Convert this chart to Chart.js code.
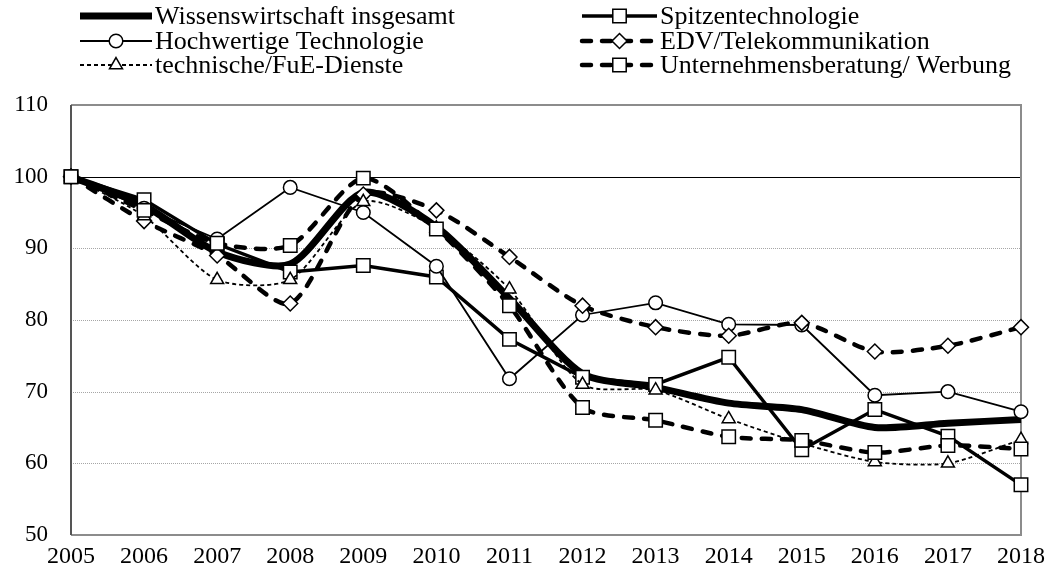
<!DOCTYPE html>
<html>
<head>
<meta charset="utf-8">
<script src="https://cdn.jsdelivr.net/npm/chart.js@4.4.1/dist/chart.umd.min.js"></script>
<style>
    html, body { margin: 0; padding: 0; background: #fff; }
    #wrap { width: 1053px; height: 579px; }
</style>
</head>
<body>
<div id="wrap"><canvas id="chart"></canvas></div>
<script>
// Daten (Index 2005 = 100)
const years = ['2005', '2006', '2007', '2008', '2009', '2010', '2011', '2012', '2013', '2014', '2015', '2016', '2017', '2018'];
const yTicks = [50, 60, 70, 80, 90, 100, 110];

const wissenGesamt    = [100, 96.0, 89.5, 87.8, 97.8, 93.0, 83.0, 72.5, 70.6, 68.4, 67.5, 65.0, 65.6, 66.1];
const spitzenTech     = [100, 96.8, 90.6, 86.7, 87.6, 86.0, 77.3, 72.0, 71.0, 74.8, 61.9, 67.5, 63.8, 57.0];
const hochwertigeTech = [100, 95.6, 91.3, 98.5, 95.0, 87.5, 71.8, 80.7, 82.4, 79.4, 79.3, 69.5, 70.0, 67.2];
const edvTelekom      = [100, 93.8, 89.0, 82.3, 97.5, 95.3, 88.8, 82.0, 79.0, 77.8, 79.6, 75.6, 76.4, 79.0];
const fueDienste      = [100, 94.5, 85.6, 85.6, 96.5, 92.8, 84.3, 71.0, 70.2, 66.2, 62.8, 60.2, 60.0, 63.3];
const beratungWerbung = [100, 95.3, 90.7, 90.4, 99.8, 92.7, 82.0, 67.8, 66.0, 63.7, 63.2, 61.5, 62.5, 62.0];

const labels = [
    'Wissenswirtschaft insgesamt',
    'Spitzentechnologie',
    'Hochwertige Technologie',
    'EDV/Telekommunikation',
    'technische/FuE-Dienste',
    'Unternehmensberatung/ Werbung'
];

const FONT = '"Liberation Serif", "Times New Roman", serif';

function marker(style, radius) {
    return {
        pointStyle: style,
        pointRadius: radius,
        pointHoverRadius: radius,
        pointBackgroundColor: '#fff',
        pointBorderColor: '#000',
        pointBorderWidth: 1.5
    };
}

const datasets = [
    Object.assign({ label: labels[0], data: wissenGesamt, borderColor: '#000', borderWidth: 7, tension: 0.25, pointRadius: 0, order: 6 }),
    Object.assign({ label: labels[1], data: spitzenTech, borderColor: '#000', borderWidth: 3.5, tension: 0, order: 5 }, marker('rect', 9.5)),
    Object.assign({ label: labels[2], data: hochwertigeTech, borderColor: '#000', borderWidth: 1.8, tension: 0, order: 4 }, marker('circle', 6.8)),
    Object.assign({ label: labels[3], data: edvTelekom, borderColor: '#000', borderWidth: 4.5, borderDash: [9, 11], borderCapStyle: 'round', tension: 0.25, order: 3 }, marker('rectRot', 7.5)),
    Object.assign({ label: labels[4], data: fueDienste, borderColor: '#000', borderWidth: 1.8, borderDash: [4, 3], tension: 0.25, order: 2 }, marker('triangle', 7.5)),
    Object.assign({ label: labels[5], data: beratungWerbung, borderColor: '#000', borderWidth: 4.5, borderDash: [9, 11], borderCapStyle: 'round', tension: 0.25, order: 1 }, marker('rect', 9.5))
];

// Gitterlinien und Rahmen selbst zeichnen
const gridPlugin = {
    id: 'gridPlugin',
    beforeDatasetsDraw(chart) {
        const ctx = chart.ctx;
        const a = chart.chartArea;
        const y = chart.scales.y;
        ctx.save();
        yTicks.forEach(v => {
            if (v === 50 || v === 110) return;
            const py = Math.round(y.getPixelForValue(v)) + 0.5;
            ctx.beginPath();
            if (v === 100) {
                ctx.strokeStyle = '#000';
                ctx.setLineDash([]);
            } else {
                ctx.strokeStyle = '#a6a6a6';
                ctx.setLineDash([1, 1]);
            }
            ctx.lineWidth = 1;
            ctx.moveTo(a.left, py);
            ctx.lineTo(a.right, py);
            ctx.stroke();
        });
        ctx.setLineDash([]);
        // Rahmen oben / rechts / unten
        ctx.strokeStyle = '#8c8c8c';
        ctx.lineWidth = 2;
        ctx.beginPath();
        ctx.moveTo(a.left, a.top);
        ctx.lineTo(a.right, a.top);
        ctx.lineTo(a.right, a.bottom);
        ctx.lineTo(a.left, a.bottom);
        ctx.stroke();
        // linke Achse
        ctx.strokeStyle = '#555';
        ctx.beginPath();
        ctx.moveTo(a.left, a.top);
        ctx.lineTo(a.left, a.bottom);
        ctx.stroke();
        ctx.restore();
    }
};

// Legende: zwei Spalten, drei Zeilen
const legendPlugin = {
    id: 'legendPlugin',
    afterDraw(chart) {
        const ctx = chart.ctx;
        const rows = [16, 41, 65];
        const cols = [{ x0: 80, x1: 152, tx: 155 }, { x0: 582, x1: 657, tx: 660 }];
        ctx.save();
        chart.data.datasets.forEach((ds, i) => {
            const row = rows[Math.floor(i / 2)];
            const col = cols[i % 2];
            ctx.beginPath();
            ctx.strokeStyle = ds.borderColor;
            ctx.lineWidth = ds.borderWidth;
            ctx.lineCap = ds.borderCapStyle || 'butt';
            ctx.setLineDash(ds.borderDash || []);
            ctx.moveTo(col.x0, row);
            ctx.lineTo(col.x1, row);
            ctx.stroke();
            ctx.setLineDash([]);
            if (ds.pointRadius > 0) {
                ctx.fillStyle = '#fff';
                ctx.strokeStyle = '#000';
                ctx.lineWidth = ds.pointBorderWidth;
                Chart.helpers.drawPoint(ctx, {
                    pointStyle: ds.pointStyle,
                    radius: ds.pointRadius,
                    rotation: 0,
                    borderWidth: ds.pointBorderWidth
                }, (col.x0 + col.x1) / 2, row);
            }
            ctx.fillStyle = '#000';
            ctx.font = '26px ' + FONT;
            ctx.textBaseline = 'middle';
            ctx.textAlign = 'left';
            ctx.fillText(ds.label, col.tx, row + 1);
        });
        ctx.restore();
    }
};

new Chart(document.getElementById('chart'), {
    type: 'line',
    data: { labels: years, datasets: datasets },
    options: {
        responsive: true,
        maintainAspectRatio: false,
        animation: false,
        layout: { padding: { top: 105, right: 32, left: 0, bottom: 0 } },
        plugins: {
            legend: { display: false },
            tooltip: { enabled: false }
        },
        scales: {
            x: {
                offset: false,
                grid: { display: false, drawTicks: false },
                border: { display: false },
                ticks: {
                    color: '#000',
                    font: { family: FONT, size: 24 },
                    padding: 7,
                    maxRotation: 0,
                    autoSkip: false
                },
                afterFit(scale) { scale.height = 44; }
            },
            y: {
                min: 50,
                max: 110,
                grid: { display: false, drawTicks: false },
                border: { display: false },
                ticks: {
                    stepSize: 10,
                    color: '#000',
                    font: { family: FONT, size: 23 },
                    padding: 23
                },
                afterFit(scale) { scale.width = 71; }
            }
        }
    },
    plugins: [gridPlugin, legendPlugin]
});
</script>
</body>
</html>
